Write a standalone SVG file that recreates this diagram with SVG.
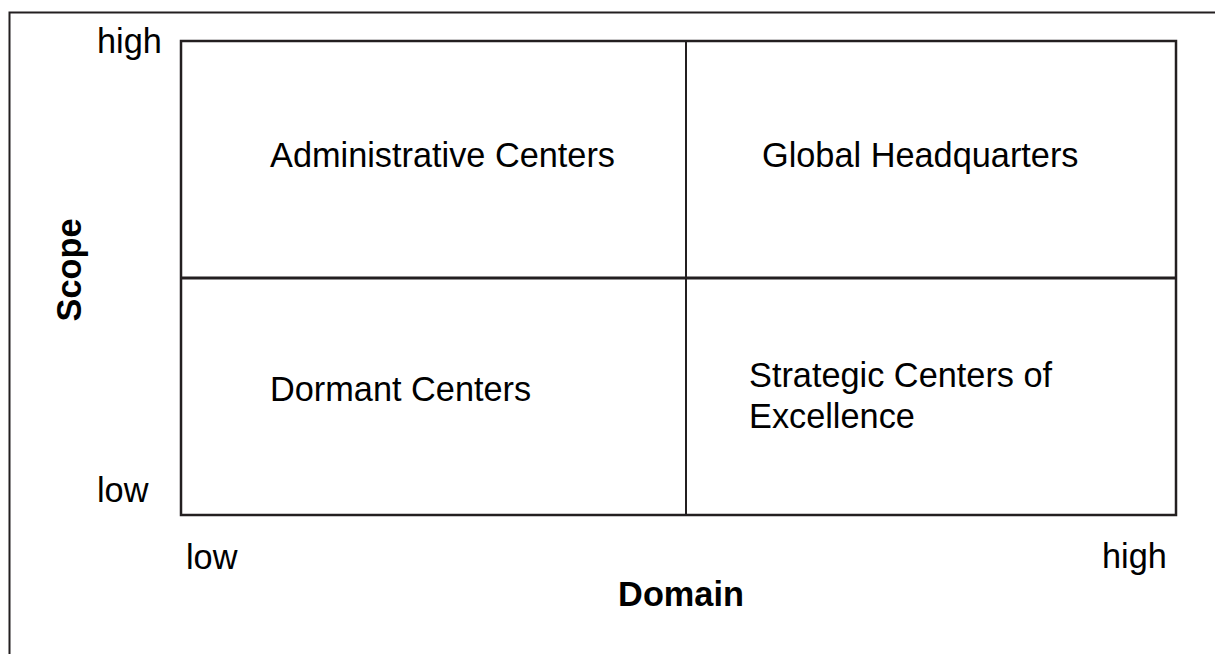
<svg xmlns="http://www.w3.org/2000/svg" width="1215" height="654" viewBox="0 0 1215 654">
<style>
.t{font-family:"Liberation Sans",Arial,sans-serif;font-size:34.3px;fill:#000}
.b{font-weight:bold}
.ln{stroke:#231f20;fill:none}
</style>
<rect width="1215" height="654" fill="#fff"/>
<g id="frame"><path class="ln" d="M9.5,654 V12.5 H1215" stroke-width="2"/></g>
<g id="matrix">
<rect class="ln" x="181" y="41" width="995" height="474" stroke-width="2.5"/>
</g>
<g id="connectors">
<line class="ln" x1="181" y1="278" x2="1176" y2="278" stroke-width="3"/>
<line class="ln" x1="686" y1="41" x2="686" y2="515" stroke-width="2"/>
</g>
<g id="axis-labels">
<text class="t" x="97" y="53">high</text>
<text class="t" x="97" y="502">low</text>
<text class="t" x="186" y="569">low</text>
<text class="t" x="1102" y="568">high</text>
<text class="t b" x="681" y="606" text-anchor="middle">Domain</text>
<text class="t b" transform="translate(81,270) rotate(-90)" text-anchor="middle">Scope</text>
</g>
<g id="node-admin"><text class="t" x="270" y="167">Administrative Centers</text></g>
<g id="node-global"><text class="t" x="762" y="167">Global Headquarters</text></g>
<g id="node-dormant"><text class="t" x="270" y="401">Dormant Centers</text></g>
<g id="node-strategic"><text class="t" x="749" y="387">Strategic Centers of<tspan x="749" dy="41">Excellence</tspan></text></g>
</svg>
